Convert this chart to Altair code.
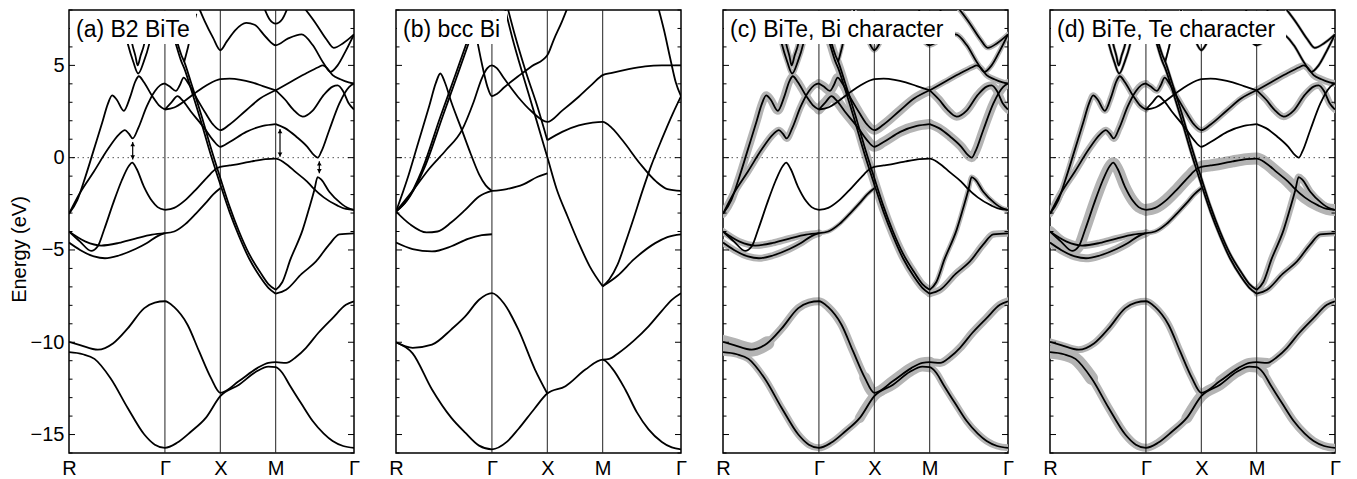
import altair as alt
import pandas as pd

# ---------------- k-path and energy window ----------------
kpath_pos = [0.0, 1.732, 2.732, 3.732, 5.146]
kpath_lab = ["R", "Γ", "X", "M", "Γ"]
E_MIN, E_MAX = -16, 8
major_ticks = [-15, -10, -5, 0, 5]
minor_ticks = [-16, -14, -13, -12, -11, -9, -8, -7, -6, -4, -3, -2, -1, 1, 2, 3, 4, 6, 7, 8]

# ---------------- B2 BiTe bands (k, E in eV) ----------------
bite_L1 = [(0, -10.54), (0.25, -10.65), (0.46, -10.9), (0.75, -11.95), (1.06, -13.56), (1.36, -15.0), (1.55, -15.55),
           (1.732, -15.72), (1.95, -15.45), (2.2, -14.85), (2.47, -14.1), (2.732, -12.92), (3.07, -12.3), (3.375, -11.6),
           (3.6, -11.32), (3.732, -11.35), (3.85, -11.65), (3.98, -12.3), (4.2, -13.35), (4.4, -14.27), (4.6, -14.95),
           (4.76, -15.35), (4.95, -15.62), (5.146, -15.72)]
bite_L2 = [(0, -9.98), (0.2, -10.15), (0.52, -10.4), (0.8, -10.05), (1.06, -9.25), (1.36, -8.15), (1.55, -7.85),
           (1.732, -7.78), (1.9, -8.1), (2.14, -9.05), (2.35, -10.5), (2.56, -11.92), (2.732, -12.74), (3.07, -12.1),
           (3.4, -11.4), (3.6, -11.12), (3.732, -11.08), (3.92, -11.12), (4.1, -10.8), (4.28, -10.3), (4.5, -9.5),
           (4.76, -8.69), (5.0, -7.97), (5.146, -7.78)]
bite_S1 = [(0, -3.04), (0.15, -2.3), (0.3, -1.0), (0.45, 0.45), (0.6, 1.9), (0.7, 2.9), (0.78, 3.38), (0.86, 3.15),
           (0.99, 2.54), (1.1, 3.25), (1.2, 4.15), (1.26, 4.41), (1.35, 4.1), (1.5, 3.35), (1.62, 2.85), (1.732, 2.61)]
bite_S2 = [(0, -3.04), (0.2, -1.9), (0.45, -0.75), (0.7, 0.45), (0.9, 1.25), (1.01, 1.49), (1.08, 1.3), (1.15, 1.04),
           (1.25, 1.6), (1.4, 2.75), (1.55, 3.6), (1.65, 3.93), (1.732, 4.02)]
bite_S3 = [(0, -4.0), (0.2, -4.55), (0.4, -5.05), (0.52, -4.8), (0.64, -3.85), (0.8, -2.45), (0.95, -1.25),
           (1.08, -0.45), (1.14, -0.27), (1.22, -0.6), (1.35, -1.55), (1.5, -2.35), (1.6, -2.68), (1.732, -2.83)]
bite_S4 = [(0, -4.0), (0.3, -4.55), (0.58, -4.76), (0.9, -4.62), (1.2, -4.38), (1.5, -4.17), (1.732, -4.09)]
bite_S5 = [(0, -4.6), (0.2, -5.0), (0.45, -5.35), (0.65, -5.45), (0.9, -5.3), (1.2, -4.95), (1.4, -4.64),
           (1.6, -4.25), (1.732, -4.09)]
bite_S6 = [(1.732, -2.83), (1.9, -2.72), (2.1, -2.3), (2.3, -1.7), (2.5, -1.05), (2.65, -0.62), (2.732, -0.5),
           (2.9, -0.42), (3.1, -0.32), (3.3, -0.2), (3.55, -0.08), (3.732, -0.05), (3.9, -0.3), (4.1, -0.8),
           (4.3, -1.3), (4.4, -1.62), (4.6, -2.15), (4.85, -2.6), (5.0, -2.78), (5.146, -2.83)]
bite_S7 = [(3.732, -7.16), (3.85, -6.75), (4.0, -5.5), (4.22, -3.9), (4.35, -2.6), (4.43, -1.75), (4.49, -1.05),
           (4.56, -1.2), (4.7, -1.85), (4.9, -2.45), (5.05, -2.75), (5.146, -2.83)]
bite_S8 = [(3.732, -7.37), (3.92, -7.16), (4.2, -6.3), (4.46, -5.62), (4.7, -4.7), (4.88, -4.15), (5.146, -4.1)]
bite_S9 = [(1.86, 7.3), (1.95, 6.3), (2.03, 5.55), (2.08, 5.2), (2.2, 4.1), (2.38, 2.39), (2.55, 0.65), (2.732, -1.1),
           (2.9, -2.65), (3.07, -4.0), (3.25, -5.2), (3.45, -6.2), (3.6, -6.85), (3.732, -7.16)]
bite_S10 = [(1.86, 6.9), (1.95, 5.95), (2.03, 5.2), (2.08, 4.85), (2.2, 3.75), (2.38, 2.0), (2.55, 0.25),
            (2.732, -1.45), (2.9, -2.95), (3.07, -4.25), (3.25, -5.45), (3.45, -6.45), (3.6, -7.05), (3.732, -7.37)]
bite_S11 = [(1.732, -4.09), (1.9, -4.0), (2.1, -3.6), (2.3, -3.0), (2.47, -2.45), (2.6, -2.0), (2.732, -1.66)]
bite_S12 = [(1.732, 2.61), (1.9, 2.72), (2.1, 3.1), (2.3, 3.55), (2.5, 3.95), (2.65, 4.18), (2.732, 4.25), (2.9, 4.28),
            (3.1, 4.22), (3.3, 4.08), (3.5, 3.88), (3.732, 3.65)]
bite_S13 = [(3.732, 1.82), (3.9, 1.6), (4.1, 1.15), (4.3, 0.6), (4.42, 0.15), (4.49, 0.0), (4.56, 0.35), (4.7, 1.5),
            (4.88, 2.93), (5.06, 3.84), (5.146, 4.02)]
bite_S14 = [(3.732, 3.65), (3.9, 3.15), (4.05, 2.6), (4.22, 2.22), (4.4, 2.55), (4.6, 3.4), (4.76, 3.85),
            (4.85, 3.92), (4.95, 3.6), (5.05, 2.95), (5.146, 2.61)]
bite_S15 = [(3.732, 3.65), (4.0, 4.1), (4.3, 4.6), (4.5, 4.9), (4.58, 5.0), (4.66, 4.85), (4.76, 4.47), (4.9, 4.25),
            (5.05, 4.08), (5.146, 4.02)]
bite_S17 = [(4.2, 8.3), (4.45, 7.3), (4.65, 6.4), (4.78, 5.95), (4.95, 6.2), (5.146, 6.68)]
bite_S18 = [(2.32, 8.3), (2.45, 7.4), (2.6, 6.5), (2.732, 5.82), (2.85, 6.3), (3.0, 6.9), (3.2, 7.3), (3.35, 7.2),
            (3.55, 6.55), (3.732, 6.09), (3.95, 6.45), (4.2, 6.68), (4.4, 6.1), (4.6, 5.1), (4.72, 4.65), (4.85, 5.0),
            (5.0, 5.8), (5.146, 6.68)]
bite_S19 = [(3.5, 8.3), (3.62, 7.5), (3.732, 7.26), (3.85, 7.5), (3.97, 8.3)]
bite_S20 = [(1.732, 4.02), (1.82, 3.85), (1.93, 3.62), (2.0, 3.92), (2.07, 4.34), (2.15, 4.05), (2.3, 3.25),
            (2.47, 2.39), (2.6, 1.8), (2.732, 1.49), (2.9, 1.8), (3.2, 2.57), (3.45, 3.2), (3.732, 3.65)]
bite_S21 = [(1.732, 2.61), (1.85, 3.0), (1.96, 3.33), (2.05, 3.1), (2.2, 2.5), (2.35, 1.95), (2.47, 1.49), (2.6, 0.95),
            (2.732, 0.59), (2.9, 0.85), (3.2, 1.4), (3.5, 1.72), (3.732, 1.82)]
bite_S22 = [(0.98, 7.2), (1.06, 6.18), (1.16, 5.2), (1.25, 4.56), (1.35, 5.2), (1.45, 6.18), (1.52, 7.2)]
bite_S23 = [(1.08, 7.2), (1.14, 6.18), (1.2, 5.5), (1.24, 5.0), (1.29, 5.5), (1.36, 6.18), (1.42, 7.2)]
bite_S24 = [(2.08, 5.2), (2.15, 6.0), (2.22, 6.9), (2.3, 7.8)]

# orbital weights shown as grey widths: (band, points, Bi-character width, Te-character width)
bite_bands = [
    ("L1", bite_L1, 7, 8), ("L2", bite_L2, 8, 7), ("S1", bite_S1, 8, 6), ("S2", bite_S2, 7, 7),
    ("S3", bite_S3, 0, 11), ("S4", bite_S4, 7, 7), ("S5", bite_S5, 7, 8), ("S6", bite_S6, 0, 12),
    ("S7", bite_S7, 5, 7), ("S8", bite_S8, 7, 6), ("S9", bite_S9, 7, 3), ("S10", bite_S10, 7, 3),
    ("S11", bite_S11, 4, 5), ("S12", bite_S12, 0, 0), ("S13", bite_S13, 9, 0), ("S14", bite_S14, 8, 7),
    ("S15", bite_S15, 6, 7), ("S17", bite_S17, 5, 3), ("S18", bite_S18, 5, 3), ("S19", bite_S19, 0, 0),
    ("S20", bite_S20, 9, 6), ("S21", bite_S21, 10, 0), ("S22", bite_S22, 5, 3), ("S23", bite_S23, 5, 3),
    ("S24", bite_S24, 4, 2),
]
# stretches where the orbital weight is strongest (extra-wide grey)
bite_heavy = [
    ("L2-R", bite_L2[:4], 14, 0), ("L2-XM", bite_L2[11:17], 11, 0), ("L1-XM", bite_L1[10:16], 10, 0),
    ("L1-R", bite_L1[:4], 0, 13), ("L1-XMd", bite_L1[10:17], 0, 11), ("L2-Md", bite_L2[13:18], 0, 10),
]

# ---------------- bcc Bi bands ----------------
bi_L1 = [(0, -10.0), (0.3, -10.6), (0.65, -12.56), (1.0, -14.1), (1.25, -14.9), (1.5, -15.6), (1.732, -15.8),
         (2.0, -15.4), (2.21, -14.7), (2.5, -13.6), (2.732, -12.78), (3.06, -12.38), (3.42, -11.48), (3.732, -10.94),
         (3.9, -11.4), (4.14, -12.56), (4.35, -13.8), (4.56, -14.72), (4.8, -15.4), (4.98, -15.7), (5.146, -15.8)]
bi_L2 = [(0, -10.0), (0.3, -10.3), (0.65, -10.13), (1.0, -9.3), (1.25, -8.6), (1.5, -7.7), (1.732, -7.34),
         (1.95, -7.9), (2.21, -9.32), (2.51, -11.48), (2.732, -12.78)]
bi_L3 = [(3.732, -10.94), (3.85, -10.9), (4.02, -10.58), (4.3, -9.9), (4.56, -9.14), (4.8, -8.3), (4.98, -7.7),
         (5.146, -7.34)]
bi_S4 = [(0, -2.92), (0.25, -3.6), (0.55, -4.05), (0.75, -4.0), (1.0, -3.5), (1.25, -2.83), (1.5, -2.1), (1.732, -1.8)]
bi_S5 = [(0, -4.6), (0.3, -4.95), (0.65, -5.08), (1.0, -4.8), (1.3, -4.4), (1.55, -4.2), (1.732, -4.15)]
bi_B1 = [(0, -2.92), (0.2, -1.2), (0.4, 0.8), (0.6, 2.8), (0.72, 4.05), (0.8, 4.56), (0.88, 4.1), (1.0, 3.0),
         (1.19, 1.49), (1.35, 0.2), (1.5, -0.9), (1.62, -1.5), (1.732, -1.8)]
bi_B2 = [(0, -2.92), (0.3, -1.8), (0.6, -0.6), (0.9, 0.4), (1.19, 1.49), (1.4, 3.0), (1.55, 4.3), (1.65, 4.85),
         (1.732, 5.0), (1.82, 4.85), (1.95, 4.3), (2.2, 3.3), (2.45, 2.5), (2.732, 1.94), (3.0, 2.55), (3.3, 3.3),
         (3.55, 4.0), (3.732, 4.47), (3.9, 4.6), (4.2, 4.8), (4.5, 4.95), (4.8, 5.0), (5.146, 5.0)]
bi_B3 = [(1.45, 6.6), (1.55, 5.1), (1.65, 3.85), (1.732, 3.33), (1.82, 3.45), (1.95, 3.8), (2.2, 4.4), (2.45, 4.95),
         (2.732, 5.55), (2.85, 6.4), (3.0, 7.4), (3.12, 8.3)]
bi_B5 = [(2.732, 0.95), (3.0, 1.4), (3.3, 1.75), (3.55, 1.9), (3.732, 1.94), (3.9, 1.6), (4.1, 0.9), (4.4, -0.3),
         (4.7, -1.3), (4.9, -1.7), (5.146, -1.8)]
bi_P1 = [(0, -2.92), (0.2, -2.3), (0.47, -0.67), (0.8, 2.2), (1.05, 4.3), (1.25, 6.0), (1.4, 7.3)]
bi_P2 = [(0, -2.92), (0.25, -2.1), (0.52, -0.5), (0.85, 2.3), (1.1, 4.4), (1.3, 6.1), (1.45, 7.4)]
bi_Q1 = [(1.95, 8.3), (2.1, 6.5), (2.3, 4.4), (2.5, 2.4), (2.732, 0.03), (2.9, -1.7), (3.1, -3.2), (3.3, -4.63),
         (3.5, -5.9), (3.732, -6.97)]
bi_Q2 = [(2.0, 8.3), (2.15, 6.6), (2.35, 4.6), (2.55, 2.8), (2.732, 0.95)]
bi_B8 = [(1.732, -1.8), (2.0, -1.7), (2.3, -1.45), (2.55, -1.05), (2.732, -0.85)]
bi_D2 = [(3.732, -6.97), (3.85, -6.6), (4.0, -5.8), (4.14, -4.63), (4.3, -3.2), (4.45, -1.8), (4.6, -0.5),
         (4.8, 1.0), (5.0, 2.4), (5.146, 3.33)]
bi_D3 = [(3.732, -6.97), (4.0, -6.4), (4.3, -5.5), (4.68, -4.63), (4.9, -4.3), (5.146, -4.15)]
bi_V2 = [(4.72, 8.3), (4.84, 6.9), (4.95, 5.4), (5.05, 4.1), (5.146, 3.33)]

bi_bands = [
    ("L1", bi_L1, 0, 0), ("L2", bi_L2, 0, 0), ("L3", bi_L3, 0, 0), ("S4", bi_S4, 0, 0), ("S5", bi_S5, 0, 0),
    ("B1", bi_B1, 0, 0), ("B2", bi_B2, 0, 0), ("B3", bi_B3, 0, 0), ("B5", bi_B5, 0, 0), ("P1", bi_P1, 0, 0),
    ("P2", bi_P2, 0, 0), ("Q1", bi_Q1, 0, 0), ("Q2", bi_Q2, 0, 0), ("B8", bi_B8, 0, 0), ("D2", bi_D2, 0, 0),
    ("D3", bi_D3, 0, 0), ("V2", bi_V2, 0, 0),
]

# gap arrows in panel (a)
arrow_k = [1.15, 3.81, 4.52]
arrow_top = [0.85, 1.55, -0.2]
arrow_bot = [-0.1, 0.05, -0.85]

panel_labels = ["(a) B2 BiTe", "(b) bcc Bi", "(c) BiTe, Bi character", "(d) BiTe, Te character"]
label_box_w = [127, 111, 232, 236]


def band_table(bands):
    rows = []
    for name, pts, wc, wd in bands:
        for i, (k, e) in enumerate(pts):
            rows.append(dict(band=name, i=i, k=k, E=e, wc=wc, wd=wd))
    return pd.DataFrame(rows)


bite_df = band_table(bite_bands)
bite_fat_df = band_table(bite_bands + bite_heavy)
bi_df = band_table(bi_bands)

W, H = 285, 443
FONT = "Liberation Sans"
mids = [(kpath_pos[j] + kpath_pos[j + 1]) / 2 for j in range(len(kpath_pos) - 1)]
label_expr = ""
for j, m in enumerate(mids):
    label_expr += f"datum.value < {m:.3f} ? '{kpath_lab[j]}' : "
label_expr += f"'{kpath_lab[-1]}'"

x_axis = alt.Axis(values=kpath_pos, labelExpr=label_expr, ticks=False, domain=False, grid=False,
                  labelFontSize=20, labelFont=FONT, labelColor="black", labelPadding=5,
                  labelFlush=False, labelOverlap=False, title=None)
X = alt.X("k:Q", scale=alt.Scale(domain=[kpath_pos[0], kpath_pos[-1]], nice=False, zero=False), axis=x_axis)


def make_y(with_axis):
    if with_axis:
        ax = alt.Axis(values=major_ticks, ticks=False, domain=False, grid=False, labelFontSize=20, labelFont=FONT,
                      labelColor="black", labelPadding=5, title="Energy (eV)", titleFont=FONT, titleFontSize=20,
                      titleFontWeight="normal", titleColor="black", titleX=-40, titleY=239, titleAngle=270,
                      titleBaseline="bottom", titleAlign="center")
    else:
        ax = None
    return alt.Y("E:Q", scale=alt.Scale(domain=[E_MIN, E_MAX], nice=False, zero=False), axis=ax)


def panel(df, idx, fat=None, fat_df=None, yaxis=False, arrows=False):
    Y = make_y(yaxis)
    layers = []
    if fat:
        layers.append(
            alt.Chart(fat_df).transform_filter(f"datum.{fat} > 0").mark_line(
                color="#b4b4b4", interpolate="monotone", clip=True, strokeCap="round", strokeJoin="round"
            ).encode(x=X, y=Y, detail="band:N", order="i:Q", strokeWidth=alt.StrokeWidth(f"{fat}:Q", scale=None))
        )
    layers.append(alt.Chart(pd.DataFrame({"E": [0]})).mark_rule(color="#555", strokeDash=[1.5, 3.5],
                                                               strokeWidth=1).encode(y=Y))
    layers.append(alt.Chart(pd.DataFrame({"k": kpath_pos[1:4]})).mark_rule(color="#222", strokeWidth=1).encode(x=X))
    layers.append(
        alt.Chart(df).mark_line(color="black", strokeWidth=1.8, interpolate="monotone", clip=True).encode(
            x=X, y=Y, detail="band:N", order="i:Q")
    )
    maj = pd.DataFrame({"E": major_ticks})
    mnr = pd.DataFrame({"E": minor_ticks})
    for d, ln in ((maj, 6), (mnr, 3.5)):
        layers.append(alt.Chart(d).mark_rule(color="black", strokeWidth=1).encode(
            y=Y, x=alt.value(0), x2=alt.value(ln)))
        layers.append(alt.Chart(d).mark_rule(color="black", strokeWidth=1).encode(
            y=Y, x=alt.value(W - ln), x2=alt.value(W)))
    if arrows:
        adf = pd.DataFrame({"k": arrow_k, "top": arrow_top, "bot": arrow_bot})
        adf["tip_t"] = adf["top"] - 0.12
        adf["tip_b"] = adf["bot"] + 0.12
        layers.append(alt.Chart(adf).mark_rule(color="black", strokeWidth=1.2).encode(
            x=X, y=alt.Y("bot:Q", scale=alt.Scale(domain=[E_MIN, E_MAX], nice=False, zero=False)), y2="top:Q"))
        layers.append(alt.Chart(adf).mark_point(shape="triangle-up", filled=True, size=22, color="black",
                                                opacity=1).encode(x=X, y=alt.Y("tip_t:Q")))
        layers.append(alt.Chart(adf).mark_point(shape="triangle-down", filled=True, size=22, color="black",
                                                opacity=1).encode(x=X, y=alt.Y("tip_b:Q")))
    lab = pd.DataFrame({"t": [panel_labels[idx]]})
    layers.append(alt.Chart(lab).mark_rect(color="white").encode(
        x=alt.value(1), x2=alt.value(label_box_w[idx]), y=alt.value(1), y2=alt.value(34)))
    layers.append(alt.Chart(lab).mark_text(font=FONT, fontSize=23, align="left", baseline="alphabetic",
                                           color="black").encode(text="t:N", x=alt.value(7), y=alt.value(27)))
    return alt.layer(*layers).properties(width=W, height=H)


pa = panel(bite_df, 0, yaxis=True, arrows=True)
pb = panel(bi_df, 1)
pc = panel(bite_df, 2, fat="wc", fat_df=bite_fat_df)
pdd = panel(bite_df, 3, fat="wd", fat_df=bite_fat_df)

chart = alt.hconcat(pa, pb, pc, pdd, spacing=42, bounds="flush").properties(
    padding={"left": 0, "top": 0, "right": 0, "bottom": 0}, background="white"
).configure_view(stroke="black", strokeWidth=1.5)

chart.save("out.html", embed_options={"renderer": "svg", "actions": False})
